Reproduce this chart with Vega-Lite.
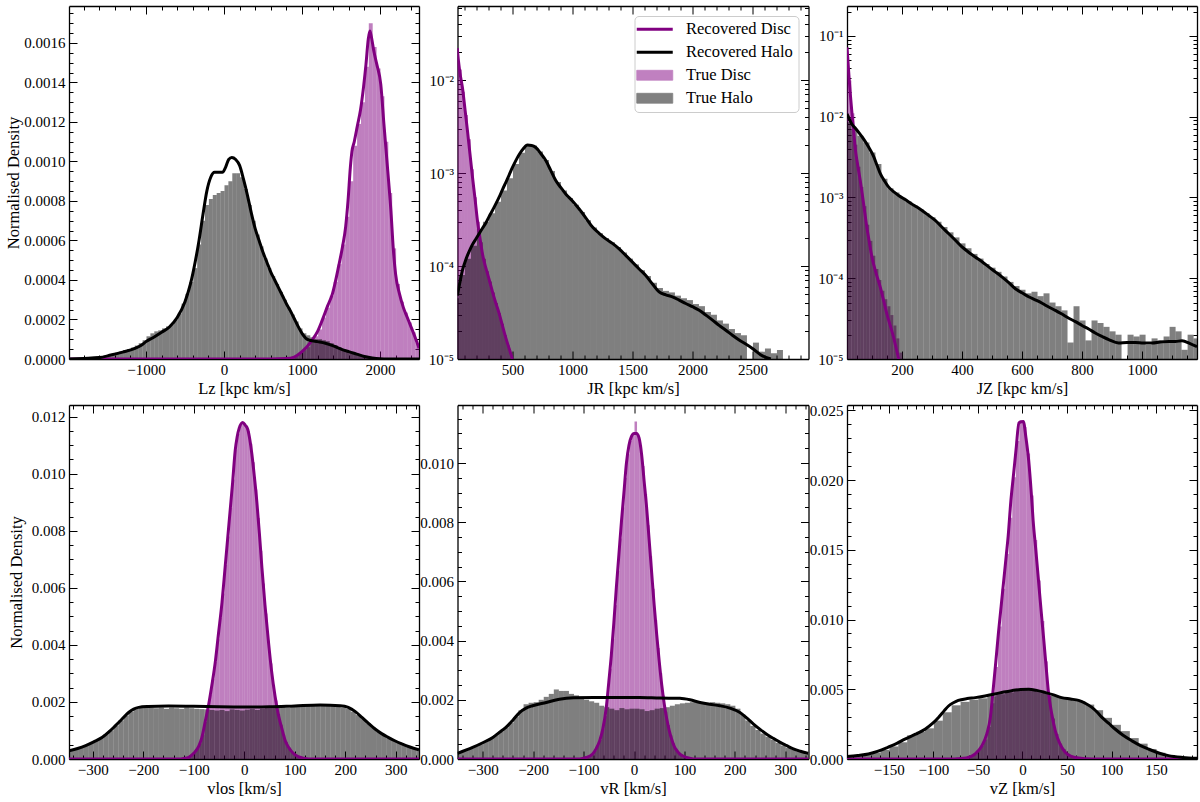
{
  "$schema": "https://vega.github.io/schema/vega-lite/v6.json",
  "background": "white",
  "padding": {"top": 0, "left": 5, "right": 5, "bottom": 5},
  "config": {
    "font": "Liberation Serif",
    "view": {"stroke": null},
    "axis": {
      "grid": false, "domain": true, "domainColor": "black", "domainWidth": 1.3,
      "tickColor": "black", "tickWidth": 1,
      "labelFont": "Liberation Serif", "labelFontSize": 15, "labelColor": "black",
      "titleFont": "Liberation Serif", "titleFontSize": 16.5, "titleFontWeight": "normal", "titleColor": "black",
      "labelFlush": false, "labelOverlap": false, "labelBound": false, "zindex": 1
    }
  },
  "datasets": {
    "lz_th": [{"x":-2000,"y":2e-6},{"x":-1950,"y":3e-6},{"x":-1900,"y":4e-6},{"x":-1850,"y":5e-6},{"x":-1800,"y":6e-6},{"x":-1750,"y":8e-6},{"x":-1700,"y":1e-5},{"x":-1650,"y":1.2e-5},{"x":-1600,"y":1.5e-5},{"x":-1550,"y":1.8e-5},{"x":-1500,"y":2.2e-5},{"x":-1450,"y":2.7e-5},{"x":-1400,"y":3.2e-5},{"x":-1350,"y":3.8e-5},{"x":-1300,"y":4.5e-5},{"x":-1250,"y":5e-5},{"x":-1200,"y":5.8e-5},{"x":-1150,"y":6.8e-5},{"x":-1100,"y":8e-5},{"x":-1050,"y":9.5e-5},{"x":-1000,"y":1.15e-4},{"x":-950,"y":1.3e-4},{"x":-900,"y":1.4e-4},{"x":-850,"y":1.45e-4},{"x":-800,"y":1.55e-4},{"x":-750,"y":1.65e-4},{"x":-700,"y":1.75e-4},{"x":-650,"y":2.0e-4},{"x":-600,"y":2.3e-4},{"x":-550,"y":2.8e-4},{"x":-500,"y":3.3e-4},{"x":-450,"y":3.9e-4},{"x":-400,"y":4.6e-4},{"x":-350,"y":5.8e-4},{"x":-300,"y":7.0e-4},{"x":-250,"y":7.8e-4},{"x":-200,"y":8.1e-4},{"x":-150,"y":8.3e-4},{"x":-100,"y":8.4e-4},{"x":-50,"y":8.5e-4},{"x":0,"y":8.8e-4},{"x":50,"y":9.0e-4},{"x":100,"y":9.4e-4},{"x":150,"y":9.4e-4},{"x":200,"y":9.2e-4},{"x":250,"y":8.6e-4},{"x":300,"y":7.8e-4},{"x":350,"y":7.0e-4},{"x":400,"y":6.3e-4},{"x":450,"y":5.7e-4},{"x":500,"y":5.1e-4},{"x":550,"y":4.6e-4},{"x":600,"y":4.2e-4},{"x":650,"y":3.8e-4},{"x":700,"y":3.4e-4},{"x":750,"y":3.0e-4},{"x":800,"y":2.6e-4},{"x":850,"y":2.25e-4},{"x":900,"y":1.9e-4},{"x":950,"y":1.55e-4},{"x":1000,"y":1.3e-4},{"x":1050,"y":1.2e-4},{"x":1100,"y":1.1e-4},{"x":1150,"y":1.0e-4},{"x":1200,"y":1.0e-4},{"x":1250,"y":9.5e-5},{"x":1300,"y":9e-5},{"x":1350,"y":8e-5},{"x":1400,"y":7e-5},{"x":1450,"y":6e-5},{"x":1500,"y":5e-5},{"x":1550,"y":4e-5},{"x":1600,"y":3e-5},{"x":1650,"y":2.5e-5},{"x":1700,"y":2e-5},{"x":1750,"y":1.5e-5},{"x":1800,"y":1e-5},{"x":1850,"y":8e-6},{"x":1900,"y":5e-6},{"x":1950,"y":3e-6}],
    "lz_td": [{"x":700,"y":1e-6},{"x":750,"y":2e-6},{"x":800,"y":4e-6},{"x":850,"y":8e-6},{"x":900,"y":1.5e-5},{"x":950,"y":3e-5},{"x":1000,"y":4.5e-5},{"x":1050,"y":6e-5},{"x":1100,"y":8.5e-5},{"x":1150,"y":1.15e-4},{"x":1200,"y":1.5e-4},{"x":1250,"y":2.1e-4},{"x":1300,"y":2.6e-4},{"x":1350,"y":3.2e-4},{"x":1400,"y":3.9e-4},{"x":1450,"y":4.8e-4},{"x":1500,"y":5.8e-4},{"x":1550,"y":7.2e-4},{"x":1600,"y":9.0e-4},{"x":1650,"y":1.08e-3},{"x":1700,"y":1.19e-3},{"x":1750,"y":1.3e-3},{"x":1800,"y":1.48e-3},{"x":1850,"y":1.7e-3},{"x":1900,"y":1.58e-3},{"x":1950,"y":1.47e-3},{"x":2000,"y":1.33e-3},{"x":2050,"y":1.1e-3},{"x":2100,"y":8.4e-4},{"x":2150,"y":5.6e-4},{"x":2200,"y":3.8e-4},{"x":2250,"y":2.9e-4},{"x":2300,"y":2.35e-4},{"x":2350,"y":1.85e-4},{"x":2400,"y":1.35e-4},{"x":2450,"y":8e-5}],
    "lz_rh": [{"x":-1987,"y":0},{"x":-1800,"y":3e-6},{"x":-1600,"y":7e-6},{"x":-1450,"y":2e-5},{"x":-1300,"y":3.5e-5},{"x":-1150,"y":5.2e-5},{"x":-1050,"y":7.2e-5},{"x":-1000,"y":8.8e-5},{"x":-900,"y":1.1e-4},{"x":-800,"y":1.35e-4},{"x":-700,"y":1.62e-4},{"x":-600,"y":2.1e-4},{"x":-500,"y":2.9e-4},{"x":-430,"y":3.8e-4},{"x":-370,"y":4.9e-4},{"x":-320,"y":6.0e-4},{"x":-270,"y":7.3e-4},{"x":-220,"y":8.5e-4},{"x":-170,"y":9.2e-4},{"x":-120,"y":9.45e-4},{"x":-60,"y":9.45e-4},{"x":-20,"y":9.45e-4},{"x":20,"y":9.7e-4},{"x":60,"y":1.01e-3},{"x":100,"y":1.02e-3},{"x":150,"y":1.01e-3},{"x":200,"y":9.8e-4},{"x":250,"y":9.1e-4},{"x":300,"y":8.3e-4},{"x":350,"y":7.4e-4},{"x":400,"y":6.6e-4},{"x":450,"y":6.0e-4},{"x":500,"y":5.4e-4},{"x":550,"y":4.9e-4},{"x":600,"y":4.4e-4},{"x":650,"y":4.0e-4},{"x":700,"y":3.6e-4},{"x":750,"y":3.2e-4},{"x":800,"y":2.8e-4},{"x":850,"y":2.45e-4},{"x":900,"y":2.05e-4},{"x":950,"y":1.65e-4},{"x":1000,"y":1.3e-4},{"x":1050,"y":1.05e-4},{"x":1100,"y":9.5e-5},{"x":1200,"y":8.8e-5},{"x":1300,"y":8.0e-5},{"x":1400,"y":6.6e-5},{"x":1500,"y":5.0e-5},{"x":1600,"y":3.7e-5},{"x":1700,"y":2.5e-5},{"x":1800,"y":1.3e-5},{"x":1900,"y":5e-6},{"x":2000,"y":1e-6},{"x":2100,"y":0},{"x":2500,"y":0}],
    "lz_rd": [{"x":-1987,"y":0},{"x":600,"y":0},{"x":800,"y":2e-6},{"x":900,"y":1e-5},{"x":1000,"y":3.7e-5},{"x":1130,"y":9.6e-5},{"x":1200,"y":1.4e-4},{"x":1260,"y":1.97e-4},{"x":1330,"y":2.7e-4},{"x":1390,"y":3.3e-4},{"x":1470,"y":4.7e-4},{"x":1520,"y":5.7e-4},{"x":1560,"y":6.7e-4},{"x":1590,"y":8.0e-4},{"x":1620,"y":9.7e-4},{"x":1640,"y":1.05e-3},{"x":1670,"y":1.1e-3},{"x":1710,"y":1.18e-3},{"x":1750,"y":1.26e-3},{"x":1790,"y":1.38e-3},{"x":1820,"y":1.49e-3},{"x":1850,"y":1.62e-3},{"x":1870,"y":1.66e-3},{"x":1890,"y":1.63e-3},{"x":1920,"y":1.56e-3},{"x":1960,"y":1.49e-3},{"x":2010,"y":1.39e-3},{"x":2050,"y":1.19e-3},{"x":2100,"y":9.5e-4},{"x":2140,"y":7.5e-4},{"x":2170,"y":5.6e-4},{"x":2200,"y":4.3e-4},{"x":2250,"y":3.3e-4},{"x":2300,"y":2.6e-4},{"x":2350,"y":2.1e-4},{"x":2400,"y":1.6e-4},{"x":2450,"y":1.1e-4},{"x":2500,"y":5.5e-5}],
    "jr_th": [{"x":0,"y":4.5e-5},{"x":50,"y":8e-5},{"x":100,"y":1.2e-4},{"x":150,"y":1.65e-4},{"x":200,"y":2.5e-4},{"x":250,"y":3.0e-4},{"x":300,"y":3.7e-4},{"x":350,"y":4.9e-4},{"x":400,"y":6.5e-4},{"x":450,"y":8.8e-4},{"x":500,"y":1.25e-3},{"x":550,"y":1.65e-3},{"x":600,"y":1.95e-3},{"x":650,"y":1.97e-3},{"x":700,"y":1.7e-3},{"x":750,"y":1.38e-3},{"x":800,"y":1.05e-3},{"x":850,"y":8.0e-4},{"x":900,"y":6.5e-4},{"x":950,"y":5.4e-4},{"x":1000,"y":4.55e-4},{"x":1050,"y":3.8e-4},{"x":1100,"y":3.1e-4},{"x":1150,"y":2.6e-4},{"x":1200,"y":2.25e-4},{"x":1250,"y":2.0e-4},{"x":1300,"y":1.8e-4},{"x":1350,"y":1.6e-4},{"x":1400,"y":1.4e-4},{"x":1450,"y":1.2e-4},{"x":1500,"y":1.04e-4},{"x":1550,"y":9.0e-5},{"x":1600,"y":7.8e-5},{"x":1650,"y":6.6e-5},{"x":1700,"y":5.8e-5},{"x":1750,"y":5.4e-5},{"x":1800,"y":5.2e-5},{"x":1850,"y":4.8e-5},{"x":1900,"y":4.5e-5},{"x":1950,"y":4.3e-5},{"x":2000,"y":3.9e-5},{"x":2050,"y":3.7e-5},{"x":2100,"y":3.2e-5},{"x":2150,"y":3.0e-5},{"x":2200,"y":2.6e-5},{"x":2250,"y":2.4e-5},{"x":2300,"y":2.1e-5},{"x":2350,"y":1.9e-5},{"x":2400,"y":1.8e-5},{"x":2500,"y":1.5e-5},{"x":2550,"y":1.2e-5},{"x":2600,"y":1.3e-5},{"x":2650,"y":1.15e-5},{"x":2700,"y":1.25e-5}],
    "jr_td": [{"x":25,"y":0.022},{"x":50,"y":0.013},{"x":75,"y":7.5e-3},{"x":100,"y":4.2e-3},{"x":125,"y":2.3e-3},{"x":150,"y":1.1e-3},{"x":175,"y":5.5e-4},{"x":200,"y":3.0e-4},{"x":225,"y":1.8e-4},{"x":250,"y":1.2e-4},{"x":275,"y":8.8e-5},{"x":300,"y":6.8e-5},{"x":325,"y":5.2e-5},{"x":350,"y":4.0e-5},{"x":375,"y":3.1e-5},{"x":400,"y":2.4e-5},{"x":425,"y":1.8e-5},{"x":450,"y":1.4e-5},{"x":475,"y":1.1e-5}],
    "jr_rh": [{"x":40,"y":4.8e-5},{"x":60,"y":6.5e-5},{"x":83,"y":9e-5},{"x":104,"y":1.1e-4},{"x":125,"y":1.3e-4},{"x":146,"y":1.5e-4},{"x":167,"y":1.7e-4},{"x":195,"y":1.95e-4},{"x":222,"y":2.22e-4},{"x":250,"y":2.55e-4},{"x":278,"y":2.9e-4},{"x":305,"y":3.4e-4},{"x":333,"y":3.95e-4},{"x":361,"y":4.65e-4},{"x":389,"y":5.5e-4},{"x":416,"y":6.6e-4},{"x":444,"y":7.9e-4},{"x":472,"y":9.5e-4},{"x":500,"y":1.15e-3},{"x":528,"y":1.36e-3},{"x":556,"y":1.58e-3},{"x":590,"y":1.82e-3},{"x":625,"y":2.0e-3},{"x":660,"y":1.98e-3},{"x":694,"y":1.88e-3},{"x":736,"y":1.62e-3},{"x":778,"y":1.36e-3},{"x":820,"y":1.06e-3},{"x":861,"y":8.3e-4},{"x":902,"y":7.0e-4},{"x":944,"y":5.96e-4},{"x":1000,"y":5.0e-4},{"x":1056,"y":4.1e-4},{"x":1111,"y":3.3e-4},{"x":1167,"y":2.62e-4},{"x":1222,"y":2.25e-4},{"x":1278,"y":1.96e-4},{"x":1333,"y":1.75e-4},{"x":1389,"y":1.53e-4},{"x":1444,"y":1.3e-4},{"x":1500,"y":1.1e-4},{"x":1556,"y":9.3e-5},{"x":1611,"y":7.9e-5},{"x":1667,"y":6.4e-5},{"x":1722,"y":5.26e-5},{"x":1778,"y":4.9e-5},{"x":1833,"y":4.65e-5},{"x":1889,"y":4.3e-5},{"x":1944,"y":3.95e-5},{"x":2000,"y":3.65e-5},{"x":2056,"y":3.35e-5},{"x":2111,"y":2.97e-5},{"x":2167,"y":2.62e-5},{"x":2222,"y":2.3e-5},{"x":2278,"y":2.04e-5},{"x":2333,"y":1.8e-5},{"x":2389,"y":1.6e-5},{"x":2444,"y":1.45e-5},{"x":2500,"y":1.3e-5},{"x":2583,"y":1.08e-5},{"x":2653,"y":1e-5}],
    "jr_rd": [{"x":40,"y":0.022},{"x":50,"y":0.016},{"x":62,"y":0.012},{"x":83,"y":8.3e-3},{"x":104,"y":4.9e-3},{"x":125,"y":2.85e-3},{"x":146,"y":1.6e-3},{"x":167,"y":9.0e-4},{"x":188,"y":5.3e-4},{"x":208,"y":3.1e-4},{"x":229,"y":2.0e-4},{"x":250,"y":1.35e-4},{"x":271,"y":1.03e-4},{"x":292,"y":8.3e-5},{"x":313,"y":6.6e-5},{"x":333,"y":5.3e-5},{"x":361,"y":4.0e-5},{"x":389,"y":3.1e-5},{"x":416,"y":2.3e-5},{"x":444,"y":1.7e-5},{"x":472,"y":1.3e-5},{"x":500,"y":1e-5}],
    "jz_th": [{"x":10,"y":8.5e-3},{"x":30,"y":7.0e-3},{"x":50,"y":5.8e-3},{"x":70,"y":4.8e-3},{"x":90,"y":3.6e-3},{"x":110,"y":2.6e-3},{"x":130,"y":1.7e-3},{"x":150,"y":1.3e-3},{"x":170,"y":1.15e-3},{"x":190,"y":1.0e-3},{"x":210,"y":9.0e-4},{"x":230,"y":8.0e-4},{"x":250,"y":7.2e-4},{"x":270,"y":6.4e-4},{"x":290,"y":5.7e-4},{"x":310,"y":5.0e-4},{"x":330,"y":4.3e-4},{"x":350,"y":3.7e-4},{"x":370,"y":3.2e-4},{"x":390,"y":2.7e-4},{"x":410,"y":2.35e-4},{"x":430,"y":2.0e-4},{"x":450,"y":1.75e-4},{"x":470,"y":1.5e-4},{"x":490,"y":1.35e-4},{"x":510,"y":1.2e-4},{"x":530,"y":1.05e-4},{"x":550,"y":9.0e-5},{"x":570,"y":8.0e-5},{"x":590,"y":7.2e-5},{"x":610,"y":6.5e-5},{"x":630,"y":6.8e-5},{"x":650,"y":6.0e-5},{"x":670,"y":6.5e-5},{"x":690,"y":5.0e-5},{"x":710,"y":4.5e-5},{"x":730,"y":4.0e-5},{"x":750,"y":1.6e-5},{"x":770,"y":4.5e-5},{"x":790,"y":3.0e-5},{"x":810,"y":1.7e-5},{"x":830,"y":3.0e-5},{"x":850,"y":2.8e-5},{"x":870,"y":2.5e-5},{"x":890,"y":2.2e-5},{"x":910,"y":2.0e-5},{"x":930,"y":1.0e-5},{"x":950,"y":2.0e-5},{"x":970,"y":1.9e-5},{"x":990,"y":2.0e-5},{"x":1010,"y":1.5e-5},{"x":1030,"y":1.8e-5},{"x":1050,"y":1.7e-5},{"x":1070,"y":1.9e-5},{"x":1090,"y":2.5e-5},{"x":1110,"y":2.2e-5},{"x":1130,"y":1.3e-5},{"x":1150,"y":2.0e-5},{"x":1170,"y":1.8e-5}],
    "jz_td": [{"x":10,"y":0.06},{"x":20,"y":0.028},{"x":30,"y":0.011},{"x":40,"y":4.5e-3},{"x":50,"y":2.4e-3},{"x":60,"y":1.35e-3},{"x":70,"y":7.8e-4},{"x":80,"y":4.6e-4},{"x":90,"y":2.9e-4},{"x":100,"y":1.9e-4},{"x":110,"y":1.3e-4},{"x":120,"y":9.5e-5},{"x":130,"y":7e-5},{"x":140,"y":5.5e-5},{"x":150,"y":4.5e-5},{"x":160,"y":3.5e-5},{"x":170,"y":2.6e-5},{"x":180,"y":1.8e-5},{"x":190,"y":1.2e-5}],
    "jz_rh": [{"x":17,"y":0.0108},{"x":25,"y":9.3e-3},{"x":33,"y":8.1e-3},{"x":45,"y":7.2e-3},{"x":56,"y":6.4e-3},{"x":72,"y":5.3e-3},{"x":89,"y":4.2e-3},{"x":106,"y":3.2e-3},{"x":117,"y":2.5e-3},{"x":128,"y":1.97e-3},{"x":142,"y":1.6e-3},{"x":156,"y":1.34e-3},{"x":172,"y":1.18e-3},{"x":189,"y":1.06e-3},{"x":211,"y":9.4e-4},{"x":233,"y":8.3e-4},{"x":250,"y":7.6e-4},{"x":267,"y":6.9e-4},{"x":289,"y":6.0e-4},{"x":311,"y":5.2e-4},{"x":333,"y":4.3e-4},{"x":356,"y":3.55e-4},{"x":378,"y":2.95e-4},{"x":400,"y":2.44e-4},{"x":422,"y":2.1e-4},{"x":444,"y":1.83e-4},{"x":467,"y":1.6e-4},{"x":489,"y":1.38e-4},{"x":511,"y":1.2e-4},{"x":533,"y":1.04e-4},{"x":556,"y":8.8e-5},{"x":578,"y":7.4e-5},{"x":600,"y":6.6e-5},{"x":622,"y":5.9e-5},{"x":644,"y":5.4e-5},{"x":667,"y":4.9e-5},{"x":689,"y":4.4e-5},{"x":711,"y":4.0e-5},{"x":733,"y":3.6e-5},{"x":756,"y":3.2e-5},{"x":778,"y":2.9e-5},{"x":800,"y":2.6e-5},{"x":822,"y":2.35e-5},{"x":844,"y":2.1e-5},{"x":867,"y":1.9e-5},{"x":889,"y":1.74e-5},{"x":922,"y":1.58e-5},{"x":950,"y":1.6e-5},{"x":978,"y":1.6e-5},{"x":1005,"y":1.58e-5},{"x":1033,"y":1.58e-5},{"x":1060,"y":1.62e-5},{"x":1089,"y":1.65e-5},{"x":1111,"y":1.65e-5},{"x":1133,"y":1.68e-5},{"x":1160,"y":1.55e-5},{"x":1183,"y":1.42e-5}],
    "jz_rd": [{"x":17,"y":0.072},{"x":20,"y":0.05},{"x":24,"y":0.03},{"x":28,"y":0.019},{"x":34,"y":0.0105},{"x":40,"y":6.3e-3},{"x":44,"y":4.2e-3},{"x":52,"y":2.6e-3},{"x":61,"y":1.63e-3},{"x":72,"y":8.5e-4},{"x":83,"y":4.3e-4},{"x":92,"y":2.7e-4},{"x":100,"y":1.83e-4},{"x":114,"y":1.15e-4},{"x":128,"y":7.7e-5},{"x":139,"y":5.3e-5},{"x":150,"y":3.6e-5},{"x":161,"y":2.6e-5},{"x":172,"y":1.86e-5},{"x":180,"y":1.4e-5},{"x":189,"y":1e-5}],
    "vl_th": [{"x":-350,"y":3.0e-4},{"x":-340,"y":3.5e-4},{"x":-330,"y":4.1e-4},{"x":-320,"y":4.8e-4},{"x":-310,"y":5.6e-4},{"x":-300,"y":6.4e-4},{"x":-290,"y":7.3e-4},{"x":-280,"y":8.6e-4},{"x":-270,"y":1.0e-3},{"x":-260,"y":1.17e-3},{"x":-250,"y":1.35e-3},{"x":-240,"y":1.52e-3},{"x":-230,"y":1.66e-3},{"x":-220,"y":1.76e-3},{"x":-210,"y":1.8e-3},{"x":-200,"y":1.82e-3},{"x":-190,"y":1.79e-3},{"x":-180,"y":1.78e-3},{"x":-170,"y":1.8e-3},{"x":-160,"y":1.76e-3},{"x":-150,"y":1.8e-3},{"x":-140,"y":1.78e-3},{"x":-130,"y":1.76e-3},{"x":-120,"y":1.8e-3},{"x":-110,"y":1.78e-3},{"x":-100,"y":1.76e-3},{"x":-90,"y":1.75e-3},{"x":-80,"y":1.74e-3},{"x":-70,"y":1.72e-3},{"x":-60,"y":1.7e-3},{"x":-50,"y":1.72e-3},{"x":-40,"y":1.68e-3},{"x":-30,"y":1.74e-3},{"x":-20,"y":1.72e-3},{"x":-10,"y":1.7e-3},{"x":0,"y":1.73e-3},{"x":10,"y":1.75e-3},{"x":20,"y":1.72e-3},{"x":30,"y":1.76e-3},{"x":40,"y":1.78e-3},{"x":50,"y":1.78e-3},{"x":60,"y":1.8e-3},{"x":70,"y":1.82e-3},{"x":80,"y":1.8e-3},{"x":90,"y":1.84e-3},{"x":100,"y":1.85e-3},{"x":110,"y":1.86e-3},{"x":120,"y":1.88e-3},{"x":130,"y":1.86e-3},{"x":140,"y":1.9e-3},{"x":150,"y":1.88e-3},{"x":160,"y":1.9e-3},{"x":170,"y":1.86e-3},{"x":180,"y":1.85e-3},{"x":190,"y":1.8e-3},{"x":200,"y":1.76e-3},{"x":210,"y":1.66e-3},{"x":220,"y":1.54e-3},{"x":230,"y":1.4e-3},{"x":240,"y":1.25e-3},{"x":250,"y":1.1e-3},{"x":260,"y":9.5e-4},{"x":270,"y":8.4e-4},{"x":280,"y":7.5e-4},{"x":290,"y":6.6e-4},{"x":300,"y":5.8e-4},{"x":310,"y":5.0e-4},{"x":320,"y":4.4e-4},{"x":330,"y":3.8e-4},{"x":340,"y":3.2e-4}],
    "vl_td": [{"x":-125,"y":1e-5},{"x":-120,"y":2e-5},{"x":-115,"y":4e-5},{"x":-110,"y":8e-5},{"x":-105,"y":1.5e-4},{"x":-100,"y":2.5e-4},{"x":-95,"y":3.8e-4},{"x":-90,"y":5.5e-4},{"x":-85,"y":8.5e-4},{"x":-80,"y":1.3e-3},{"x":-75,"y":1.75e-3},{"x":-70,"y":2.25e-3},{"x":-65,"y":2.8e-3},{"x":-60,"y":3.4e-3},{"x":-55,"y":4.2e-3},{"x":-50,"y":4.95e-3},{"x":-45,"y":5.8e-3},{"x":-40,"y":6.8e-3},{"x":-35,"y":7.8e-3},{"x":-30,"y":8.8e-3},{"x":-25,"y":9.8e-3},{"x":-20,"y":1.085e-2},{"x":-15,"y":1.14e-2},{"x":-10,"y":1.17e-2},{"x":-5,"y":1.18e-2},{"x":0,"y":1.17e-2},{"x":5,"y":1.15e-2},{"x":10,"y":1.105e-2},{"x":15,"y":1.04e-2},{"x":20,"y":9.45e-3},{"x":25,"y":8.45e-3},{"x":30,"y":7.3e-3},{"x":35,"y":6.15e-3},{"x":40,"y":5.1e-3},{"x":45,"y":4.15e-3},{"x":50,"y":3.35e-3},{"x":55,"y":2.6e-3},{"x":60,"y":2.05e-3},{"x":65,"y":1.58e-3},{"x":70,"y":1.2e-3},{"x":75,"y":8.5e-4},{"x":80,"y":6e-4},{"x":85,"y":4.2e-4},{"x":90,"y":2.8e-4},{"x":95,"y":1.9e-4},{"x":100,"y":1.3e-4},{"x":105,"y":8e-5},{"x":110,"y":5e-5},{"x":115,"y":2e-5}],
    "vl_rh": [{"x":-347,"y":2.9e-4},{"x":-330,"y":3.7e-4},{"x":-314,"y":4.7e-4},{"x":-298,"y":6.0e-4},{"x":-281,"y":7.6e-4},{"x":-268,"y":9.5e-4},{"x":-255,"y":1.17e-3},{"x":-242,"y":1.4e-3},{"x":-229,"y":1.63e-3},{"x":-219,"y":1.75e-3},{"x":-209,"y":1.81e-3},{"x":-190,"y":1.84e-3},{"x":-150,"y":1.86e-3},{"x":-100,"y":1.85e-3},{"x":-50,"y":1.83e-3},{"x":0,"y":1.82e-3},{"x":50,"y":1.83e-3},{"x":100,"y":1.86e-3},{"x":150,"y":1.89e-3},{"x":190,"y":1.87e-3},{"x":206,"y":1.81e-3},{"x":220,"y":1.66e-3},{"x":233,"y":1.46e-3},{"x":246,"y":1.25e-3},{"x":259,"y":1.05e-3},{"x":272,"y":8.9e-4},{"x":285,"y":7.6e-4},{"x":298,"y":6.4e-4},{"x":312,"y":5.3e-4},{"x":328,"y":4.2e-4},{"x":346,"y":3.2e-4}],
    "vl_rd": [{"x":-350,"y":0},{"x":-130,"y":0},{"x":-120,"y":2e-5},{"x":-110,"y":6e-5},{"x":-100,"y":2e-4},{"x":-90,"y":4.5e-4},{"x":-84,"y":7.5e-4},{"x":-77,"y":1.34e-3},{"x":-70,"y":1.95e-3},{"x":-64,"y":2.6e-3},{"x":-57,"y":3.45e-3},{"x":-51,"y":4.4e-3},{"x":-44,"y":5.5e-3},{"x":-38,"y":6.7e-3},{"x":-33,"y":7.7e-3},{"x":-28,"y":8.7e-3},{"x":-23,"y":9.7e-3},{"x":-18,"y":1.08e-2},{"x":-14,"y":1.13e-2},{"x":-10,"y":1.16e-2},{"x":-3,"y":1.18e-2},{"x":2,"y":1.17e-2},{"x":7,"y":1.155e-2},{"x":11,"y":1.12e-2},{"x":15,"y":1.07e-2},{"x":20,"y":9.9e-3},{"x":25,"y":9.0e-3},{"x":30,"y":7.9e-3},{"x":35,"y":6.7e-3},{"x":41,"y":5.4e-3},{"x":48,"y":4.1e-3},{"x":54,"y":3.1e-3},{"x":61,"y":2.2e-3},{"x":67,"y":1.6e-3},{"x":74,"y":1.1e-3},{"x":81,"y":6.5e-4},{"x":88,"y":4e-4},{"x":97,"y":2e-4},{"x":107,"y":8e-5},{"x":127,"y":0},{"x":350,"y":0}],
    "vr_th": [{"x":-350,"y":2.2e-4},{"x":-340,"y":2.8e-4},{"x":-330,"y":3.4e-4},{"x":-320,"y":4.3e-4},{"x":-310,"y":5.0e-4},{"x":-300,"y":6.0e-4},{"x":-290,"y":6.8e-4},{"x":-280,"y":8.0e-4},{"x":-270,"y":9.3e-4},{"x":-260,"y":1.06e-3},{"x":-250,"y":1.22e-3},{"x":-240,"y":1.42e-3},{"x":-230,"y":1.65e-3},{"x":-220,"y":1.85e-3},{"x":-210,"y":1.9e-3},{"x":-200,"y":1.92e-3},{"x":-190,"y":2.0e-3},{"x":-180,"y":2.1e-3},{"x":-170,"y":2.2e-3},{"x":-160,"y":2.35e-3},{"x":-150,"y":2.3e-3},{"x":-140,"y":2.3e-3},{"x":-130,"y":2.2e-3},{"x":-120,"y":2.15e-3},{"x":-110,"y":2.1e-3},{"x":-100,"y":2.0e-3},{"x":-90,"y":1.95e-3},{"x":-80,"y":1.9e-3},{"x":-70,"y":1.8e-3},{"x":-60,"y":1.75e-3},{"x":-50,"y":1.7e-3},{"x":-40,"y":1.65e-3},{"x":-30,"y":1.72e-3},{"x":-20,"y":1.68e-3},{"x":-10,"y":1.7e-3},{"x":0,"y":1.7e-3},{"x":10,"y":1.68e-3},{"x":20,"y":1.62e-3},{"x":30,"y":1.65e-3},{"x":40,"y":1.7e-3},{"x":50,"y":1.72e-3},{"x":60,"y":1.75e-3},{"x":70,"y":1.8e-3},{"x":80,"y":1.85e-3},{"x":90,"y":1.88e-3},{"x":100,"y":1.9e-3},{"x":110,"y":1.92e-3},{"x":120,"y":1.9e-3},{"x":130,"y":1.88e-3},{"x":140,"y":1.9e-3},{"x":150,"y":1.92e-3},{"x":160,"y":1.9e-3},{"x":170,"y":1.88e-3},{"x":180,"y":1.85e-3},{"x":190,"y":1.8e-3},{"x":200,"y":1.7e-3},{"x":210,"y":1.5e-3},{"x":220,"y":1.3e-3},{"x":230,"y":1.12e-3},{"x":240,"y":9.8e-4},{"x":250,"y":8.6e-4},{"x":260,"y":7.5e-4},{"x":270,"y":6.5e-4},{"x":280,"y":5.5e-4},{"x":290,"y":4.6e-4},{"x":300,"y":3.8e-4},{"x":310,"y":3.2e-4},{"x":320,"y":2.6e-4},{"x":330,"y":2.1e-4},{"x":340,"y":1.7e-4}],
    "vr_td": [{"x":-110,"y":1e-5},{"x":-105,"y":2e-5},{"x":-100,"y":4e-5},{"x":-95,"y":7e-5},{"x":-90,"y":1.1e-4},{"x":-85,"y":1.7e-4},{"x":-80,"y":2.7e-4},{"x":-75,"y":4.5e-4},{"x":-70,"y":6.5e-4},{"x":-65,"y":1.0e-3},{"x":-60,"y":1.45e-3},{"x":-55,"y":2.15e-3},{"x":-50,"y":3.05e-3},{"x":-45,"y":4.05e-3},{"x":-40,"y":5.2e-3},{"x":-35,"y":6.35e-3},{"x":-30,"y":7.45e-3},{"x":-25,"y":8.5e-3},{"x":-20,"y":9.5e-3},{"x":-15,"y":1.03e-2},{"x":-10,"y":1.075e-2},{"x":-5,"y":1.095e-2},{"x":0,"y":1.14e-2},{"x":5,"y":1.09e-2},{"x":10,"y":1.06e-2},{"x":15,"y":9.9e-3},{"x":20,"y":8.95e-3},{"x":25,"y":7.9e-3},{"x":30,"y":6.85e-3},{"x":35,"y":5.75e-3},{"x":40,"y":4.7e-3},{"x":45,"y":3.75e-3},{"x":50,"y":2.9e-3},{"x":55,"y":2.15e-3},{"x":60,"y":1.6e-3},{"x":65,"y":1.15e-3},{"x":70,"y":8e-4},{"x":75,"y":5.3e-4},{"x":80,"y":3.5e-4},{"x":85,"y":2.3e-4},{"x":90,"y":1.4e-4},{"x":95,"y":9e-5},{"x":100,"y":5e-5},{"x":105,"y":3e-5}],
    "vr_rh": [{"x":-350,"y":1.9e-4},{"x":-320,"y":3.9e-4},{"x":-300,"y":5.5e-4},{"x":-280,"y":7.3e-4},{"x":-267,"y":9e-4},{"x":-254,"y":1.07e-3},{"x":-240,"y":1.32e-3},{"x":-227,"y":1.57e-3},{"x":-214,"y":1.72e-3},{"x":-201,"y":1.8e-3},{"x":-174,"y":1.91e-3},{"x":-148,"y":2.02e-3},{"x":-120,"y":2.07e-3},{"x":-80,"y":2.08e-3},{"x":-28,"y":2.08e-3},{"x":11,"y":2.08e-3},{"x":51,"y":2.06e-3},{"x":91,"y":2.05e-3},{"x":111,"y":2.0e-3},{"x":131,"y":1.91e-3},{"x":150,"y":1.85e-3},{"x":170,"y":1.8e-3},{"x":190,"y":1.72e-3},{"x":210,"y":1.57e-3},{"x":224,"y":1.38e-3},{"x":237,"y":1.18e-3},{"x":250,"y":1.0e-3},{"x":263,"y":8.4e-4},{"x":276,"y":7.0e-4},{"x":290,"y":5.6e-4},{"x":303,"y":4.5e-4},{"x":316,"y":3.4e-4},{"x":330,"y":2.6e-4},{"x":346,"y":1.9e-4}],
    "vr_rd": [{"x":-350,"y":0},{"x":-108,"y":0},{"x":-95,"y":5e-5},{"x":-82,"y":1.7e-4},{"x":-75,"y":3.5e-4},{"x":-68,"y":6.2e-4},{"x":-62,"y":1.0e-3},{"x":-55,"y":1.74e-3},{"x":-50,"y":2.6e-3},{"x":-45,"y":3.5e-3},{"x":-40,"y":4.6e-3},{"x":-35,"y":5.8e-3},{"x":-30,"y":6.9e-3},{"x":-25,"y":8.0e-3},{"x":-20,"y":9.0e-3},{"x":-15,"y":1.0e-2},{"x":-10,"y":1.06e-2},{"x":-5,"y":1.09e-2},{"x":0,"y":1.1e-2},{"x":5,"y":1.1e-2},{"x":10,"y":1.085e-2},{"x":15,"y":1.03e-2},{"x":20,"y":9.4e-3},{"x":25,"y":8.5e-3},{"x":30,"y":7.4e-3},{"x":35,"y":6.3e-3},{"x":40,"y":5.2e-3},{"x":45,"y":4.2e-3},{"x":50,"y":3.3e-3},{"x":55,"y":2.5e-3},{"x":60,"y":1.85e-3},{"x":65,"y":1.35e-3},{"x":70,"y":9.5e-4},{"x":75,"y":6.5e-4},{"x":80,"y":4.2e-4},{"x":85,"y":2.8e-4},{"x":90,"y":1.8e-4},{"x":97,"y":1e-4},{"x":110,"y":3e-5},{"x":124,"y":0},{"x":350,"y":0}],
    "vz_th": [{"x":-200,"y":1.7e-4},{"x":-190,"y":2.2e-4},{"x":-180,"y":3.0e-4},{"x":-170,"y":4.5e-4},{"x":-160,"y":6.5e-4},{"x":-150,"y":9.0e-4},{"x":-140,"y":1.2e-3},{"x":-130,"y":1.7e-3},{"x":-120,"y":1.95e-3},{"x":-110,"y":2.2e-3},{"x":-100,"y":2.75e-3},{"x":-90,"y":3.35e-3},{"x":-80,"y":3.85e-3},{"x":-70,"y":4.1e-3},{"x":-60,"y":4.25e-3},{"x":-50,"y":4.35e-3},{"x":-40,"y":4.5e-3},{"x":-30,"y":4.65e-3},{"x":-20,"y":4.78e-3},{"x":-10,"y":4.88e-3},{"x":0,"y":4.95e-3},{"x":10,"y":4.88e-3},{"x":20,"y":4.72e-3},{"x":30,"y":4.55e-3},{"x":40,"y":4.38e-3},{"x":50,"y":4.28e-3},{"x":60,"y":4.15e-3},{"x":70,"y":3.9e-3},{"x":80,"y":3.5e-3},{"x":90,"y":2.95e-3},{"x":100,"y":2.45e-3},{"x":110,"y":2.0e-3},{"x":120,"y":1.5e-3},{"x":130,"y":1.1e-3},{"x":140,"y":7.2e-4},{"x":150,"y":4.5e-4},{"x":160,"y":2.7e-4},{"x":170,"y":1.5e-4},{"x":180,"y":9e-5},{"x":190,"y":5e-5}],
    "vz_td": [{"x":-72,"y":3e-5},{"x":-68,"y":5e-5},{"x":-64,"y":9e-5},{"x":-60,"y":1.5e-4},{"x":-56,"y":3e-4},{"x":-52,"y":6e-4},{"x":-48,"y":9.5e-4},{"x":-44,"y":1.4e-3},{"x":-40,"y":2.3e-3},{"x":-36,"y":4.0e-3},{"x":-32,"y":6.6e-3},{"x":-28,"y":9.5e-3},{"x":-24,"y":1.22e-2},{"x":-20,"y":1.47e-2},{"x":-16,"y":1.73e-2},{"x":-12,"y":2.02e-2},{"x":-8,"y":2.28e-2},{"x":-4,"y":2.43e-2},{"x":0,"y":2.38e-2},{"x":4,"y":2.19e-2},{"x":8,"y":1.89e-2},{"x":12,"y":1.57e-2},{"x":16,"y":1.28e-2},{"x":20,"y":9.9e-3},{"x":24,"y":7.0e-3},{"x":28,"y":4.5e-3},{"x":32,"y":2.9e-3},{"x":36,"y":1.8e-3},{"x":40,"y":1.1e-3},{"x":44,"y":7e-4},{"x":48,"y":4e-4},{"x":52,"y":2.2e-4},{"x":56,"y":1.3e-4},{"x":60,"y":8e-5},{"x":64,"y":5e-5},{"x":68,"y":2e-5}],
    "vz_rh": [{"x":-197,"y":1.7e-4},{"x":-185,"y":2.5e-4},{"x":-173,"y":3.6e-4},{"x":-162,"y":5.6e-4},{"x":-151,"y":8.4e-4},{"x":-141,"y":1.12e-3},{"x":-132,"y":1.43e-3},{"x":-120,"y":1.78e-3},{"x":-109,"y":2.15e-3},{"x":-101,"y":2.55e-3},{"x":-94,"y":3.0e-3},{"x":-88,"y":3.45e-3},{"x":-83,"y":3.8e-3},{"x":-77,"y":4.05e-3},{"x":-72,"y":4.2e-3},{"x":-62,"y":4.33e-3},{"x":-53,"y":4.4e-3},{"x":-42,"y":4.52e-3},{"x":-31,"y":4.66e-3},{"x":-21,"y":4.8e-3},{"x":-12,"y":4.9e-3},{"x":-2,"y":4.98e-3},{"x":7,"y":5.0e-3},{"x":16,"y":4.92e-3},{"x":25,"y":4.78e-3},{"x":35,"y":4.6e-3},{"x":44,"y":4.4e-3},{"x":54,"y":4.3e-3},{"x":63,"y":4.2e-3},{"x":71,"y":3.98e-3},{"x":78,"y":3.7e-3},{"x":84,"y":3.35e-3},{"x":89,"y":3.0e-3},{"x":97,"y":2.55e-3},{"x":104,"y":2.15e-3},{"x":113,"y":1.7e-3},{"x":123,"y":1.3e-3},{"x":132,"y":9.8e-4},{"x":142,"y":7.0e-4},{"x":153,"y":4.3e-4},{"x":164,"y":2.4e-4},{"x":180,"y":1.1e-4},{"x":196,"y":5e-5}],
    "vz_rd": [{"x":-200,"y":0},{"x":-78,"y":0},{"x":-72,"y":2e-5},{"x":-63,"y":7e-5},{"x":-53,"y":3.6e-4},{"x":-46,"y":9e-4},{"x":-40,"y":1.8e-3},{"x":-36,"y":3.0e-3},{"x":-33,"y":4.9e-3},{"x":-30,"y":6.9e-3},{"x":-27,"y":9.0e-3},{"x":-24,"y":1.09e-2},{"x":-21,"y":1.28e-2},{"x":-18,"y":1.47e-2},{"x":-16,"y":1.6e-2},{"x":-13,"y":1.85e-2},{"x":-10,"y":2.04e-2},{"x":-7,"y":2.23e-2},{"x":-4,"y":2.41e-2},{"x":1,"y":2.42e-2},{"x":4,"y":2.3e-2},{"x":7,"y":2.14e-2},{"x":10,"y":1.9e-2},{"x":12,"y":1.71e-2},{"x":15,"y":1.5e-2},{"x":18,"y":1.28e-2},{"x":21,"y":1.06e-2},{"x":24,"y":8.5e-3},{"x":27,"y":6.3e-3},{"x":29,"y":4.9e-3},{"x":33,"y":3.2e-3},{"x":37,"y":2.0e-3},{"x":42,"y":1.1e-3},{"x":48,"y":4.8e-4},{"x":55,"y":1.8e-4},{"x":63,"y":7e-5},{"x":78,"y":0},{"x":200,"y":0}]
  },
  "columns": 3,
  "spacing": {"row": 46, "column": 38.5},
  "bounds": "flush",
  "resolve": {"scale": {"color": "independent"}},
  "concat": [
    {
      "width": 350, "height": 353,
      "layer": [
        {"data": {"name": "lz_td"},
         "mark": {"type": "bar", "color": "#800080", "opacity": 0.5, "binSpacing": 0, "clip": true},
         "encoding": {
           "x": {"field": "x", "type": "quantitative", "bin": {"binned": true, "step": 50}, "scale": {"domain": [-1987, 2500], "nice": false, "zero": false},
                 "axis": {"orient": "top", "title": null, "labels": false, "values": [-1800,-1600,-1400,-1200,-1000,-800,-600,-400,-200,0,200,400,600,800,1000,1200,1400,1600,1800,2000,2200,2400], "tickSize": {"condition": {"test": "datum.value % 1000 == 0", "value": -8}, "value": -4}}},
           "y": {"field": "y", "type": "quantitative", "scale": {"domain": [0, 0.001787], "nice": false},
                 "axis": {"orient": "right", "title": null, "labels": false, "values": [0,0.00005,0.0001,0.00015,0.0002,0.00025,0.0003,0.00035,0.0004,0.00045,0.0005,0.00055,0.0006,0.00065,0.0007,0.00075,0.0008,0.00085,0.0009,0.00095,0.001,0.00105,0.0011,0.00115,0.0012,0.00125,0.0013,0.00135,0.0014,0.00145,0.0015,0.00155,0.0016,0.00165,0.0017,0.00175], "tickSize": {"condition": {"test": "abs(datum.value*5000-round(datum.value*5000))<0.01", "value": -8}, "value": -4}}}
         }},
        {"data": {"name": "lz_th"},
         "mark": {"type": "bar", "color": "#000000", "opacity": 0.5, "binSpacing": 0, "clip": true},
         "encoding": {
           "x": {"field": "x", "type": "quantitative", "bin": {"binned": true, "step": 50}, "scale": {"domain": [-1987, 2500], "nice": false, "zero": false},
                 "axis": {"orient": "bottom", "title": "Lz [kpc km/s]", "format": "d", "labelExpr": "datum.value % 1000 == 0 ? datum.label : ''", "labelPadding": 11, "titlePadding": -1, "values": [-1800,-1600,-1400,-1200,-1000,-800,-600,-400,-200,0,200,400,600,800,1000,1200,1400,1600,1800,2000,2200,2400], "tickSize": {"condition": {"test": "datum.value % 1000 == 0", "value": -8}, "value": -4}}},
           "y": {"field": "y", "type": "quantitative", "scale": {"domain": [0, 0.001787], "nice": false},
                 "axis": {"orient": "left", "title": "Normalised Density", "format": ".4f", "labelExpr": "abs(datum.value*5000-round(datum.value*5000))<0.01 ? datum.label : ''", "labelPadding": 12, "titlePadding": 2, "minExtent": 43, "values": [0,0.00005,0.0001,0.00015,0.0002,0.00025,0.0003,0.00035,0.0004,0.00045,0.0005,0.00055,0.0006,0.00065,0.0007,0.00075,0.0008,0.00085,0.0009,0.00095,0.001,0.00105,0.0011,0.00115,0.0012,0.00125,0.0013,0.00135,0.0014,0.00145,0.0015,0.00155,0.0016,0.00165,0.0017,0.00175], "tickSize": {"condition": {"test": "abs(datum.value*5000-round(datum.value*5000))<0.01", "value": -8}, "value": -4}}}
         }},
        {"data": {"name": "lz_rd"},
         "mark": {"type": "line", "color": "#800080", "strokeWidth": 3, "interpolate": "monotone", "clip": true},
         "encoding": {"x": {"field": "x", "type": "quantitative", "axis": null}, "y": {"field": "y", "type": "quantitative", "axis": null}}},
        {"data": {"name": "lz_rh"},
         "mark": {"type": "line", "color": "#000000", "strokeWidth": 3, "interpolate": "monotone", "clip": true},
         "encoding": {"x": {"field": "x", "type": "quantitative", "axis": null}, "y": {"field": "y", "type": "quantitative", "axis": null}}}
      ]
    },
    {
      "width": 351, "height": 353,
      "layer": [
        {"data": {"name": "jr_td"},
         "mark": {"type": "bar", "color": "#800080", "opacity": 0.5, "binSpacing": 0, "clip": true},
         "encoding": {
           "x": {"field": "x", "type": "quantitative", "bin": {"binned": true, "step": 25}, "scale": {"domain": [42, 2967], "nice": false, "zero": false},
                 "axis": {"orient": "top", "title": null, "labels": false, "values": [100,200,300,400,500,600,700,800,900,1000,1100,1200,1300,1400,1500,1600,1700,1800,1900,2000,2100,2200,2300,2400,2500,2600,2700,2800,2900], "tickSize": {"condition": {"test": "datum.value % 500 == 0", "value": -8}, "value": -4}}},
           "y": {"field": "y", "type": "quantitative", "scale": {"type": "log", "domain": [0.00001, 0.0625], "nice": false},
                 "axis": {"orient": "right", "title": null, "labels": false, "values": [0.00001,0.00002,0.00003,0.00004,0.00005,0.00006,0.00007,0.00008,0.00009,0.0001,0.0002,0.0003,0.0004,0.0005,0.0006,0.0007,0.0008,0.0009,0.001,0.002,0.003,0.004,0.005,0.006,0.007,0.008,0.009,0.01,0.02,0.03,0.04,0.05,0.06], "tickSize": {"condition": {"test": "datum.value == 0.1 || datum.value == 0.01 || datum.value == 0.001 || datum.value == 0.0001 || datum.value == 0.00001", "value": -8}, "value": -4}}},
           "y2": {"datum": 0.00001}
         }},
        {"data": {"name": "jr_th"},
         "mark": {"type": "bar", "color": "#000000", "opacity": 0.5, "binSpacing": 0, "clip": true},
         "encoding": {
           "x": {"field": "x", "type": "quantitative", "bin": {"binned": true, "step": 50}, "scale": {"domain": [42, 2967], "nice": false, "zero": false},
                 "axis": {"orient": "bottom", "title": "JR [kpc km/s]", "format": "d", "labelExpr": "datum.value % 500 == 0 ? datum.label : ''", "labelPadding": 11, "titlePadding": -1, "values": [100,200,300,400,500,600,700,800,900,1000,1100,1200,1300,1400,1500,1600,1700,1800,1900,2000,2100,2200,2300,2400,2500,2600,2700,2800,2900], "tickSize": {"condition": {"test": "datum.value % 500 == 0", "value": -8}, "value": -4}}},
           "y": {"field": "y", "type": "quantitative", "scale": {"type": "log", "domain": [0.00001, 0.0625], "nice": false},
                 "axis": {"orient": "left", "title": null, "labelExpr": "datum.value == 0.1 ? '10⁻¹' : datum.value == 0.01 ? '10⁻²' : datum.value == 0.001 ? '10⁻³' : datum.value == 0.0001 ? '10⁻⁴' : datum.value == 0.00001 ? '10⁻⁵' : ''", "labelPadding": 12, "values": [0.00001,0.00002,0.00003,0.00004,0.00005,0.00006,0.00007,0.00008,0.00009,0.0001,0.0002,0.0003,0.0004,0.0005,0.0006,0.0007,0.0008,0.0009,0.001,0.002,0.003,0.004,0.005,0.006,0.007,0.008,0.009,0.01,0.02,0.03,0.04,0.05,0.06], "tickSize": {"condition": {"test": "datum.value == 0.1 || datum.value == 0.01 || datum.value == 0.001 || datum.value == 0.0001 || datum.value == 0.00001", "value": -8}, "value": -4}}},
           "y2": {"datum": 0.00001}
         }},
        {"data": {"name": "jr_rd"},
         "mark": {"type": "line", "strokeWidth": 3, "interpolate": "monotone", "clip": true},
         "encoding": {"x": {"field": "x", "type": "quantitative", "axis": null}, "y": {"field": "y", "type": "quantitative", "scale": {"type": "log"}, "axis": null},
           "color": {"datum": "Recovered Disc",
             "scale": {"domain": ["Recovered Disc", "Recovered Halo", "True Disc", "True Halo"], "range": ["#800080", "#000000", "#c080c0", "#808080"]},
             "legend": {
               "title": null, "orient": "top-right", "offset": 10, "padding": 5, "rowPadding": 6,
               "symbolType": {"expr": "datum.value == 'True Disc' || datum.value == 'True Halo' ? 'M-2,-0.55H2V0.55H-2Z' : 'M-2,0H2'"},
               "symbolStrokeWidth": {"expr": "datum.value == 'True Disc' || datum.value == 'True Halo' ? 0.8 : 3.2"},
               "symbolFillColor": {"expr": "datum.value == 'True Disc' ? '#c080c0' : datum.value == 'True Halo' ? '#808080' : 'transparent'"},
               "symbolOpacity": 1,
               "symbolSize": 324, "symbolOffset": 7, "labelOffset": 23,
               "labelFont": "Liberation Serif", "labelFontSize": 16.5, "labelColor": "black",
               "fillColor": "rgba(255,255,255,0.85)", "strokeColor": "#cccccc", "cornerRadius": 4
             }}}},
        {"data": {"name": "jr_rh"},
         "mark": {"type": "line", "strokeWidth": 3, "interpolate": "monotone", "clip": true},
         "encoding": {"x": {"field": "x", "type": "quantitative", "axis": null}, "y": {"field": "y", "type": "quantitative", "scale": {"type": "log"}, "axis": null}, "color": {"datum": "Recovered Halo"}}}
      ]
    },
    {
      "width": 350, "height": 353,
      "layer": [
        {"data": {"name": "jz_td"},
         "mark": {"type": "bar", "color": "#800080", "opacity": 0.5, "binSpacing": 0, "clip": true},
         "encoding": {
           "x": {"field": "x", "type": "quantitative", "bin": {"binned": true, "step": 10}, "scale": {"domain": [17, 1183], "nice": false, "zero": false},
                 "axis": {"orient": "top", "title": null, "labels": false, "values": [50,100,150,200,250,300,350,400,450,500,550,600,650,700,750,800,850,900,950,1000,1050,1100,1150], "tickSize": {"condition": {"test": "datum.value % 200 == 0", "value": -8}, "value": -4}}},
           "y": {"field": "y", "type": "quantitative", "scale": {"type": "log", "domain": [0.00001, 0.2344], "nice": false},
                 "axis": {"orient": "right", "title": null, "labels": false, "values": [0.00001,0.00002,0.00003,0.00004,0.00005,0.00006,0.00007,0.00008,0.00009,0.0001,0.0002,0.0003,0.0004,0.0005,0.0006,0.0007,0.0008,0.0009,0.001,0.002,0.003,0.004,0.005,0.006,0.007,0.008,0.009,0.01,0.02,0.03,0.04,0.05,0.06,0.07,0.08,0.09,0.1,0.2], "tickSize": {"condition": {"test": "datum.value == 0.1 || datum.value == 0.01 || datum.value == 0.001 || datum.value == 0.0001 || datum.value == 0.00001", "value": -8}, "value": -4}}},
           "y2": {"datum": 0.00001}
         }},
        {"data": {"name": "jz_th"},
         "mark": {"type": "bar", "color": "#000000", "opacity": 0.5, "binSpacing": 0, "clip": true},
         "encoding": {
           "x": {"field": "x", "type": "quantitative", "bin": {"binned": true, "step": 20}, "scale": {"domain": [17, 1183], "nice": false, "zero": false},
                 "axis": {"orient": "bottom", "title": "JZ [kpc km/s]", "format": "d", "labelExpr": "datum.value % 200 == 0 ? datum.label : ''", "labelPadding": 11, "titlePadding": -1, "values": [50,100,150,200,250,300,350,400,450,500,550,600,650,700,750,800,850,900,950,1000,1050,1100,1150], "tickSize": {"condition": {"test": "datum.value % 200 == 0", "value": -8}, "value": -4}}},
           "y": {"field": "y", "type": "quantitative", "scale": {"type": "log", "domain": [0.00001, 0.2344], "nice": false},
                 "axis": {"orient": "left", "title": null, "labelExpr": "datum.value == 0.1 ? '10⁻¹' : datum.value == 0.01 ? '10⁻²' : datum.value == 0.001 ? '10⁻³' : datum.value == 0.0001 ? '10⁻⁴' : datum.value == 0.00001 ? '10⁻⁵' : ''", "labelPadding": 12, "values": [0.00001,0.00002,0.00003,0.00004,0.00005,0.00006,0.00007,0.00008,0.00009,0.0001,0.0002,0.0003,0.0004,0.0005,0.0006,0.0007,0.0008,0.0009,0.001,0.002,0.003,0.004,0.005,0.006,0.007,0.008,0.009,0.01,0.02,0.03,0.04,0.05,0.06,0.07,0.08,0.09,0.1,0.2], "tickSize": {"condition": {"test": "datum.value == 0.1 || datum.value == 0.01 || datum.value == 0.001 || datum.value == 0.0001 || datum.value == 0.00001", "value": -8}, "value": -4}}},
           "y2": {"datum": 0.00001}
         }},
        {"data": {"name": "jz_rd"},
         "mark": {"type": "line", "color": "#800080", "strokeWidth": 3, "interpolate": "monotone", "clip": true},
         "encoding": {"x": {"field": "x", "type": "quantitative", "axis": null}, "y": {"field": "y", "type": "quantitative", "scale": {"type": "log"}, "axis": null}}},
        {"data": {"name": "jz_rh"},
         "mark": {"type": "line", "color": "#000000", "strokeWidth": 3, "interpolate": "monotone", "clip": true},
         "encoding": {"x": {"field": "x", "type": "quantitative", "axis": null}, "y": {"field": "y", "type": "quantitative", "scale": {"type": "log"}, "axis": null}}}
      ]
    },
    {
      "width": 350, "height": 354,
      "layer": [
        {"data": {"name": "vl_td"},
         "mark": {"type": "bar", "color": "#800080", "opacity": 0.5, "binSpacing": 0, "clip": true},
         "encoding": {
           "x": {"field": "x", "type": "quantitative", "bin": {"binned": true, "step": 5}, "scale": {"domain": [-347, 346], "nice": false, "zero": false},
                 "axis": {"orient": "top", "title": null, "labels": false, "values": [-340,-320,-300,-280,-260,-240,-220,-200,-180,-160,-140,-120,-100,-80,-60,-40,-20,0,20,40,60,80,100,120,140,160,180,200,220,240,260,280,300,320,340], "tickSize": {"condition": {"test": "datum.value % 100 == 0", "value": -8}, "value": -4}}},
           "y": {"field": "y", "type": "quantitative", "scale": {"domain": [0, 0.01241], "nice": false},
                 "axis": {"orient": "right", "title": null, "labels": false, "values": [0,0.0005,0.001,0.0015,0.002,0.0025,0.003,0.0035,0.004,0.0045,0.005,0.0055,0.006,0.0065,0.007,0.0075,0.008,0.0085,0.009,0.0095,0.01,0.0105,0.011,0.0115,0.012], "tickSize": {"condition": {"test": "abs(datum.value*500-round(datum.value*500))<0.01", "value": -8}, "value": -4}}}
         }},
        {"data": {"name": "vl_th"},
         "mark": {"type": "bar", "color": "#000000", "opacity": 0.5, "binSpacing": 0, "clip": true},
         "encoding": {
           "x": {"field": "x", "type": "quantitative", "bin": {"binned": true, "step": 10}, "scale": {"domain": [-347, 346], "nice": false, "zero": false},
                 "axis": {"orient": "bottom", "title": "vlos [km/s]", "format": "d", "labelExpr": "datum.value % 100 == 0 ? datum.label : ''", "labelPadding": 11, "titlePadding": -1, "values": [-340,-320,-300,-280,-260,-240,-220,-200,-180,-160,-140,-120,-100,-80,-60,-40,-20,0,20,40,60,80,100,120,140,160,180,200,220,240,260,280,300,320,340], "tickSize": {"condition": {"test": "datum.value % 100 == 0", "value": -8}, "value": -4}}},
           "y": {"field": "y", "type": "quantitative", "scale": {"domain": [0, 0.01241], "nice": false},
                 "axis": {"orient": "left", "title": "Normalised Density", "format": ".3f", "labelExpr": "abs(datum.value*500-round(datum.value*500))<0.01 ? datum.label : ''", "labelPadding": 12, "titlePadding": 2, "minExtent": 43, "values": [0,0.0005,0.001,0.0015,0.002,0.0025,0.003,0.0035,0.004,0.0045,0.005,0.0055,0.006,0.0065,0.007,0.0075,0.008,0.0085,0.009,0.0095,0.01,0.0105,0.011,0.0115,0.012], "tickSize": {"condition": {"test": "abs(datum.value*500-round(datum.value*500))<0.01", "value": -8}, "value": -4}}}
         }},
        {"data": {"name": "vl_rd"},
         "mark": {"type": "line", "color": "#800080", "strokeWidth": 3, "interpolate": "monotone", "clip": true},
         "encoding": {"x": {"field": "x", "type": "quantitative", "axis": null}, "y": {"field": "y", "type": "quantitative", "axis": null}}},
        {"data": {"name": "vl_rh"},
         "mark": {"type": "line", "color": "#000000", "strokeWidth": 3, "interpolate": "monotone", "clip": true},
         "encoding": {"x": {"field": "x", "type": "quantitative", "axis": null}, "y": {"field": "y", "type": "quantitative", "axis": null}}}
      ]
    },
    {
      "width": 351, "height": 354,
      "layer": [
        {"data": {"name": "vr_td"},
         "mark": {"type": "bar", "color": "#800080", "opacity": 0.5, "binSpacing": 0, "clip": true},
         "encoding": {
           "x": {"field": "x", "type": "quantitative", "bin": {"binned": true, "step": 5}, "scale": {"domain": [-350, 346], "nice": false, "zero": false},
                 "axis": {"orient": "top", "title": null, "labels": false, "values": [-340,-320,-300,-280,-260,-240,-220,-200,-180,-160,-140,-120,-100,-80,-60,-40,-20,0,20,40,60,80,100,120,140,160,180,200,220,240,260,280,300,320,340], "tickSize": {"condition": {"test": "datum.value % 100 == 0", "value": -8}, "value": -4}}},
           "y": {"field": "y", "type": "quantitative", "scale": {"domain": [0, 0.01196], "nice": false},
                 "axis": {"orient": "right", "title": null, "labels": false, "values": [0,0.0005,0.001,0.0015,0.002,0.0025,0.003,0.0035,0.004,0.0045,0.005,0.0055,0.006,0.0065,0.007,0.0075,0.008,0.0085,0.009,0.0095,0.01,0.0105,0.011,0.0115], "tickSize": {"condition": {"test": "abs(datum.value*500-round(datum.value*500))<0.01", "value": -8}, "value": -4}}}
         }},
        {"data": {"name": "vr_th"},
         "mark": {"type": "bar", "color": "#000000", "opacity": 0.5, "binSpacing": 0, "clip": true},
         "encoding": {
           "x": {"field": "x", "type": "quantitative", "bin": {"binned": true, "step": 10}, "scale": {"domain": [-350, 346], "nice": false, "zero": false},
                 "axis": {"orient": "bottom", "title": "vR [km/s]", "format": "d", "labelExpr": "datum.value % 100 == 0 ? datum.label : ''", "labelPadding": 11, "titlePadding": -1, "values": [-340,-320,-300,-280,-260,-240,-220,-200,-180,-160,-140,-120,-100,-80,-60,-40,-20,0,20,40,60,80,100,120,140,160,180,200,220,240,260,280,300,320,340], "tickSize": {"condition": {"test": "datum.value % 100 == 0", "value": -8}, "value": -4}}},
           "y": {"field": "y", "type": "quantitative", "scale": {"domain": [0, 0.01196], "nice": false},
                 "axis": {"orient": "left", "title": null, "format": ".3f", "labelExpr": "abs(datum.value*500-round(datum.value*500))<0.01 ? datum.label : ''", "labelPadding": 12, "values": [0,0.0005,0.001,0.0015,0.002,0.0025,0.003,0.0035,0.004,0.0045,0.005,0.0055,0.006,0.0065,0.007,0.0075,0.008,0.0085,0.009,0.0095,0.01,0.0105,0.011,0.0115], "tickSize": {"condition": {"test": "abs(datum.value*500-round(datum.value*500))<0.01", "value": -8}, "value": -4}}}
         }},
        {"data": {"name": "vr_rd"},
         "mark": {"type": "line", "color": "#800080", "strokeWidth": 3, "interpolate": "monotone", "clip": true},
         "encoding": {"x": {"field": "x", "type": "quantitative", "axis": null}, "y": {"field": "y", "type": "quantitative", "axis": null}}},
        {"data": {"name": "vr_rh"},
         "mark": {"type": "line", "color": "#000000", "strokeWidth": 3, "interpolate": "monotone", "clip": true},
         "encoding": {"x": {"field": "x", "type": "quantitative", "axis": null}, "y": {"field": "y", "type": "quantitative", "axis": null}}}
      ]
    },
    {
      "width": 350, "height": 354,
      "layer": [
        {"data": {"name": "vz_td"},
         "mark": {"type": "bar", "color": "#800080", "opacity": 0.5, "binSpacing": 0, "clip": true},
         "encoding": {
           "x": {"field": "x", "type": "quantitative", "bin": {"binned": true, "step": 4}, "scale": {"domain": [-197, 196], "nice": false, "zero": false},
                 "axis": {"orient": "top", "title": null, "labels": false, "values": [-190,-180,-170,-160,-150,-140,-130,-120,-110,-100,-90,-80,-70,-60,-50,-40,-30,-20,-10,0,10,20,30,40,50,60,70,80,90,100,110,120,130,140,150,160,170,180,190], "tickSize": {"condition": {"test": "datum.value % 50 == 0", "value": -8}, "value": -4}}},
           "y": {"field": "y", "type": "quantitative", "scale": {"domain": [0, 0.02538], "nice": false},
                 "axis": {"orient": "right", "title": null, "labels": false, "values": [0,0.001,0.002,0.003,0.004,0.005,0.006,0.007,0.008,0.009,0.01,0.011,0.012,0.013,0.014,0.015,0.016,0.017,0.018,0.019,0.02,0.021,0.022,0.023,0.024,0.025], "tickSize": {"condition": {"test": "abs(datum.value*200-round(datum.value*200))<0.01", "value": -8}, "value": -4}}}
         }},
        {"data": {"name": "vz_th"},
         "mark": {"type": "bar", "color": "#000000", "opacity": 0.5, "binSpacing": 0, "clip": true},
         "encoding": {
           "x": {"field": "x", "type": "quantitative", "bin": {"binned": true, "step": 10}, "scale": {"domain": [-197, 196], "nice": false, "zero": false},
                 "axis": {"orient": "bottom", "title": "vZ [km/s]", "format": "d", "labelExpr": "datum.value % 50 == 0 ? datum.label : ''", "labelPadding": 11, "titlePadding": -1, "values": [-190,-180,-170,-160,-150,-140,-130,-120,-110,-100,-90,-80,-70,-60,-50,-40,-30,-20,-10,0,10,20,30,40,50,60,70,80,90,100,110,120,130,140,150,160,170,180,190], "tickSize": {"condition": {"test": "datum.value % 50 == 0", "value": -8}, "value": -4}}},
           "y": {"field": "y", "type": "quantitative", "scale": {"domain": [0, 0.02538], "nice": false},
                 "axis": {"orient": "left", "title": null, "format": ".3f", "labelExpr": "abs(datum.value*200-round(datum.value*200))<0.01 ? datum.label : ''", "labelPadding": 12, "values": [0,0.001,0.002,0.003,0.004,0.005,0.006,0.007,0.008,0.009,0.01,0.011,0.012,0.013,0.014,0.015,0.016,0.017,0.018,0.019,0.02,0.021,0.022,0.023,0.024,0.025], "tickSize": {"condition": {"test": "abs(datum.value*200-round(datum.value*200))<0.01", "value": -8}, "value": -4}}}
         }},
        {"data": {"name": "vz_rd"},
         "mark": {"type": "line", "color": "#800080", "strokeWidth": 3, "interpolate": "monotone", "clip": true},
         "encoding": {"x": {"field": "x", "type": "quantitative", "axis": null}, "y": {"field": "y", "type": "quantitative", "axis": null}}},
        {"data": {"name": "vz_rh"},
         "mark": {"type": "line", "color": "#000000", "strokeWidth": 3, "interpolate": "monotone", "clip": true},
         "encoding": {"x": {"field": "x", "type": "quantitative", "axis": null}, "y": {"field": "y", "type": "quantitative", "axis": null}}}
      ]
    }
  ]
}
